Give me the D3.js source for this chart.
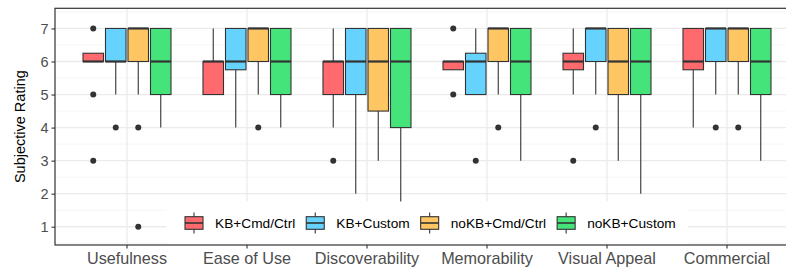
<!DOCTYPE html>
<html>
<head>
<meta charset="utf-8">
<script src="https://cdn.jsdelivr.net/npm/d3@7"></script>
<style>
  body { margin: 0; background: #fff; }
  text { font-family: "Liberation Sans", Arial, sans-serif; }
</style>
</head>
<body>
<div id="chart"></div>
<script>
// Data: [lower whisker, q1, median, q3, upper whisker]
const categories = ["Usefulness", "Ease of Use", "Discoverability", "Memorability", "Visual Appeal", "Commercial"];
const conditions = ["KB+Cmd/Ctrl", "KB+Custom", "noKB+Cmd/Ctrl", "noKB+Custom"];
const colors = ["#FE6A6E", "#66D3FE", "#FEC662", "#45E47B"];
const yTicks = [1, 2, 3, 4, 5, 6, 7];

const kbCmdCtrl = [
  [6, 6, 6, 6.25, 6.25],
  [5, 5, 6, 6, 7],
  [4, 5, 6, 6, 7],
  [5.75, 5.75, 6, 6, 6],
  [5, 5.75, 6, 6.25, 7],
  [4, 5.75, 6, 7, 7],
];
const kbCmdCtrlOut = [[7, 5, 3], [], [3], [7, 5], [3], []];

const kbCustom = [
  [5, 6, 6, 7, 7],
  [4, 5.75, 6, 7, 7],
  [2, 5, 6, 7, 7],
  [5, 5, 6, 6.25, 7],
  [5, 6, 7, 7, 7],
  [5, 6, 7, 7, 7],
];
const kbCustomOut = [[4], [], [], [3], [4], [4]];

const noKbCmdCtrl = [
  [5, 6, 7, 7, 7],
  [5, 6, 7, 7, 7],
  [3, 4.5, 6, 7, 7],
  [5, 6, 7, 7, 7],
  [3, 5, 6, 7, 7],
  [5, 6, 7, 7, 7],
];
const noKbCmdCtrlOut = [[4, 1], [4], [], [4], [], [4]];

const noKbCustom = [
  [4, 5, 6, 7, 7],
  [4, 5, 6, 7, 7],
  [1, 4, 6, 7, 7],
  [3, 5, 6, 7, 7],
  [2, 5, 6, 7, 7],
  [3, 5, 6, 7, 7],
];
const noKbCustomOut = [[], [], [], [], [], []];

const stats = [kbCmdCtrl, kbCustom, noKbCmdCtrl, noKbCustom];
const outliers = [kbCmdCtrlOut, kbCustomOut, noKbCmdCtrlOut, noKbCustomOut];

// Dimensions
const width = 786;
const height = 272;
const panel = { left: 55, top: 8.3, bottom: 245 };
const step = 120;
const panelRight = panel.left + step * 6.2; // goes past the right edge, as in the picture

const svg = d3
  .select("#chart")
  .append("svg")
  .attr("width", width)
  .attr("height", height);

const xScale = d3
  .scaleBand()
  .domain(categories)
  .range([panel.left + step * 0.1, panelRight - step * 0.1])
  .paddingInner(0)
  .paddingOuter(0);

const xInner = d3
  .scaleBand()
  .domain(conditions)
  .range([-45, 45]);

const yScale = d3
  .scaleLinear()
  .domain([0.447, 7.61])
  .range([panel.bottom, panel.top]);

const color = d3.scaleOrdinal().domain(conditions).range(colors);

const center = (c) => xScale(c) + xScale.bandwidth() / 2;

// Grid lines
const minor = d3.range(0.5, 8, 1).filter((v) => v > 0.447 && v < 7.61);
svg
  .append("g")
  .selectAll("line")
  .data(minor)
  .join("line")
  .attr("x1", panel.left)
  .attr("x2", panelRight)
  .attr("y1", (d) => yScale(d))
  .attr("y2", (d) => yScale(d))
  .attr("stroke", "#F3F3F3")
  .attr("stroke-width", 0.8);

svg
  .append("g")
  .selectAll("line")
  .data(yTicks)
  .join("line")
  .attr("x1", panel.left)
  .attr("x2", panelRight)
  .attr("y1", (d) => yScale(d))
  .attr("y2", (d) => yScale(d))
  .attr("stroke", "#EBEBEB")
  .attr("stroke-width", 1.3);

svg
  .append("g")
  .selectAll("line")
  .data(categories)
  .join("line")
  .attr("x1", (d) => center(d))
  .attr("x2", (d) => center(d))
  .attr("y1", panel.top)
  .attr("y2", panel.bottom)
  .attr("stroke", "#EBEBEB")
  .attr("stroke-width", 1.3);

// Boxplots
const boxW = 20.5;
conditions.forEach((cond, i) => {
  const g = svg.append("g");
  categories.forEach((cat, j) => {
    const [lo, q1, med, q3, hi] = stats[i][j];
    const cx = center(cat) + xInner(cond) + xInner.bandwidth() / 2;

    // whiskers
    g.append("line")
      .attr("x1", cx).attr("x2", cx)
      .attr("y1", yScale(q3)).attr("y2", yScale(hi))
      .attr("stroke", "#333").attr("stroke-width", 1.1);
    g.append("line")
      .attr("x1", cx).attr("x2", cx)
      .attr("y1", yScale(q1)).attr("y2", yScale(lo))
      .attr("stroke", "#333").attr("stroke-width", 1.1);

    g.append("rect")
      .attr("x", cx - boxW / 2)
      .attr("y", yScale(q3))
      .attr("width", boxW)
      .attr("height", yScale(q1) - yScale(q3))
      .attr("fill", color(cond))
      .attr("stroke", "#333")
      .attr("stroke-width", 1.1);

    g.append("line")
      .attr("x1", cx - boxW / 2).attr("x2", cx + boxW / 2)
      .attr("y1", yScale(med)).attr("y2", yScale(med))
      .attr("stroke", "#333").attr("stroke-width", 2.2);

    g.selectAll(null)
      .data(outliers[i][j])
      .join("circle")
      .attr("cx", cx)
      .attr("cy", (d) => yScale(d))
      .attr("r", 3)
      .attr("fill", "#333");
  });
});

// Legend inside the panel
const legend = svg.append("g");
legend
  .append("rect")
  .attr("x", 166)
  .attr("y", 201.5)
  .attr("width", 522)
  .attr("height", 42)
  .attr("fill", "#fff");

let lx = 185;
const ly = 223;
conditions.forEach((cond) => {
  const key = legend.append("g").attr("transform", `translate(${lx},${ly})`);
  key.append("line").attr("x1", 9).attr("x2", 9).attr("y1", -10.5).attr("y2", 10.5)
    .attr("stroke", "#333").attr("stroke-width", 1.1);
  key.append("rect").attr("x", 0).attr("y", -6.3).attr("width", 18).attr("height", 12.6)
    .attr("fill", color(cond)).attr("stroke", "#333").attr("stroke-width", 1.1);
  key.append("line").attr("x1", 0).attr("x2", 18).attr("y1", 0).attr("y2", 0)
    .attr("stroke", "#333").attr("stroke-width", 1.6);
  const t = legend
    .append("text")
    .attr("x", lx + 30)
    .attr("y", ly)
    .attr("dy", "0.35em")
    .style("font-size", "13.7px")
    .style("fill", "#000")
    .text(cond);
  lx += 30 + t.node().getComputedTextLength() + 11;
});

// Panel border
svg
  .append("rect")
  .attr("x", panel.left)
  .attr("y", panel.top)
  .attr("width", panelRight - panel.left)
  .attr("height", panel.bottom - panel.top)
  .attr("fill", "none")
  .attr("stroke", "#333")
  .attr("stroke-width", 1.2);

// Axes
const xAxis = svg
  .append("g")
  .attr("transform", `translate(0,${panel.bottom})`)
  .call(d3.axisBottom(xScale).tickSize(3.5).tickSizeOuter(0).tickPadding(4));
xAxis.select(".domain").remove();
xAxis.selectAll("line").attr("stroke", "#333").attr("stroke-width", 1.1);
xAxis.selectAll("text").style("font-size", "16.2px").style("fill", "#4D4D4D");

const yAxis = svg
  .append("g")
  .attr("transform", `translate(${panel.left},0)`)
  .call(d3.axisLeft(yScale).tickValues(yTicks).tickSize(3.5).tickSizeOuter(0).tickPadding(3));
yAxis.select(".domain").remove();
yAxis.selectAll("line").attr("stroke", "#333").attr("stroke-width", 1.1);
yAxis.selectAll("text").style("font-size", "14.5px").style("fill", "#4D4D4D");

svg
  .append("text")
  .attr("transform", `translate(20,${(panel.top + panel.bottom) / 2}) rotate(-90)`)
  .attr("text-anchor", "middle")
  .attr("dy", "0.35em")
  .style("font-size", "14.5px")
  .style("fill", "#000")
  .text("Subjective Rating");
</script>
</body>
</html>
